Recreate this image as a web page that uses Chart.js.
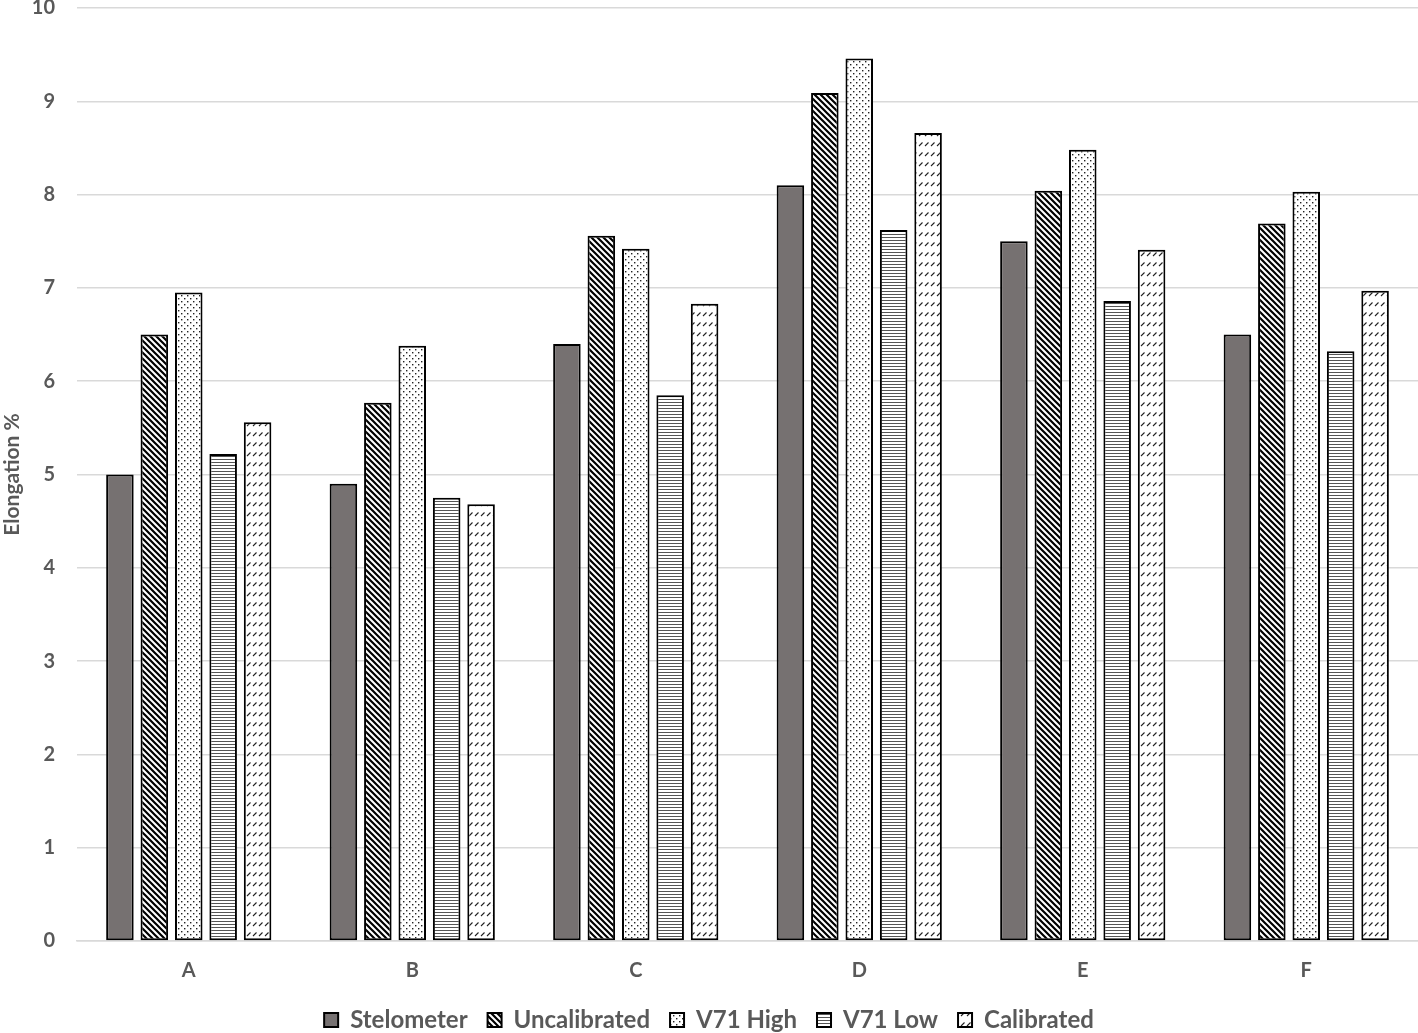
<!DOCTYPE html>
<html>
<head>
<meta charset="utf-8">
<script src="https://cdn.jsdelivr.net/npm/chart.js@4/dist/chart.umd.min.js"></script>
<style>
  html, body { margin: 0; padding: 0; background: #fff; }
  #wrap { width: 1418px; height: 1033px; }
</style>
</head>
<body>
<div id="wrap"><canvas id="chart"></canvas></div>
<script>
const categories = ['A', 'B', 'C', 'D', 'E', 'F'];
const stelometer   = [5.00, 4.90, 6.40, 8.10, 7.50, 6.50];
const uncalibrated = [6.50, 5.77, 7.56, 9.09, 8.04, 7.69];
const v71High      = [6.95, 6.38, 7.42, 9.46, 8.48, 8.03];
const v71Low       = [5.22, 4.75, 5.85, 7.62, 6.86, 6.32];
const calibrated   = [5.56, 4.68, 6.83, 8.66, 7.41, 6.97];
const yTicks = [0, 1, 2, 3, 4, 5, 6, 7, 8, 9, 10];

const FONT = "Lato, 'Open Sans', Arial, sans-serif";
const GREY_TEXT = '#595959';

// small tiles turned into canvas patterns
function makePattern(w, h, draw) {
    const c = document.createElement('canvas');
    c.width = w;
    c.height = h;
    const g = c.getContext('2d');
    g.fillStyle = '#fff';
    g.fillRect(0, 0, w, h);
    draw(g);
    return document.getElementById('chart').getContext('2d').createPattern(c, 'repeat');
}

const diagPattern = makePattern(6, 6, g => {
    g.strokeStyle = '#000';
    g.lineWidth = 2.2;
    g.beginPath();
    g.moveTo(-1, -1); g.lineTo(7, 7);
    g.moveTo(-4, 2); g.lineTo(4, 10);
    g.moveTo(2, -4); g.lineTo(10, 4);
    g.stroke();
});

const dotPattern = makePattern(6, 6, g => {
    g.fillStyle = '#222';
    g.fillRect(1, 1, 1.4, 1.4);
    g.fillRect(4, 4, 1.4, 1.4);
});

const hLinePattern = makePattern(4, 3, g => {
    g.fillStyle = '#555';
    g.fillRect(0, 0, 4, 1);
});

const dashPattern = makePattern(6, 10, g => {
    g.strokeStyle = '#222';
    g.lineWidth = 1.1;
    g.beginPath();
    g.moveTo(1, 6); g.lineTo(4.5, 2.5);
    g.stroke();
});

const seriesStyle = (label, data, fill) => ({
    label: label,
    data: data,
    backgroundColor: fill,
    borderColor: '#000',
    borderWidth: 2,
    borderSkipped: false,
    categoryPercentage: 0.77,
    barPercentage: 0.8,
});

new Chart(document.getElementById('chart'), {
    type: 'bar',
    data: {
        labels: categories,
        datasets: [
            seriesStyle('Stelometer', stelometer, '#767171'),
            seriesStyle('Uncalibrated', uncalibrated, diagPattern),
            seriesStyle('V71 High', v71High, dotPattern),
            seriesStyle('V71 Low', v71Low, hLinePattern),
            seriesStyle('Calibrated', calibrated, dashPattern),
        ],
    },
    options: {
        responsive: true,
        maintainAspectRatio: false,
        animation: false,
        devicePixelRatio: 1,
        layout: { padding: { top: 8, right: 0, left: 0, bottom: -9 } },
        plugins: {
            tooltip: { enabled: false },
            legend: {
                position: 'bottom',
                labels: {
                    boxWidth: 14,
                    boxHeight: 14,
                    padding: 20,
                    color: GREY_TEXT,
                    font: { family: FONT, size: 24, weight: 'bold' },
                },
            },
        },
        scales: {
            x: {
                grid: { display: false, drawTicks: false },
                border: { display: true, color: '#d9d9d9', width: 1.5 },
                ticks: {
                    color: GREY_TEXT,
                    padding: 18,
                    font: { family: FONT, size: 20, weight: 'bold' },
                },
                afterFit: scale => { scale.height = 47; },
            },
            y: {
                min: 0,
                max: 10,
                afterBuildTicks: scale => { scale.ticks = yTicks.map(v => ({ value: v })); },
                grid: { color: '#d9d9d9', lineWidth: 1.5, drawTicks: false },
                border: { display: false },
                ticks: {
                    color: GREY_TEXT,
                    padding: 22,
                    font: { family: FONT, size: 20, weight: 'bold' },
                },
                title: {
                    display: true,
                    text: 'Elongation %',
                    color: GREY_TEXT,
                    padding: { top: 0, bottom: 4 },
                    font: { family: FONT, size: 21, weight: 'bold' },
                },
                afterFit: scale => {
                    scale.width = 77;
                    scale.paddingTop = 0;
                    scale.paddingBottom = 0;
                },
            },
        },
    },
});
</script>
</body>
</html>
